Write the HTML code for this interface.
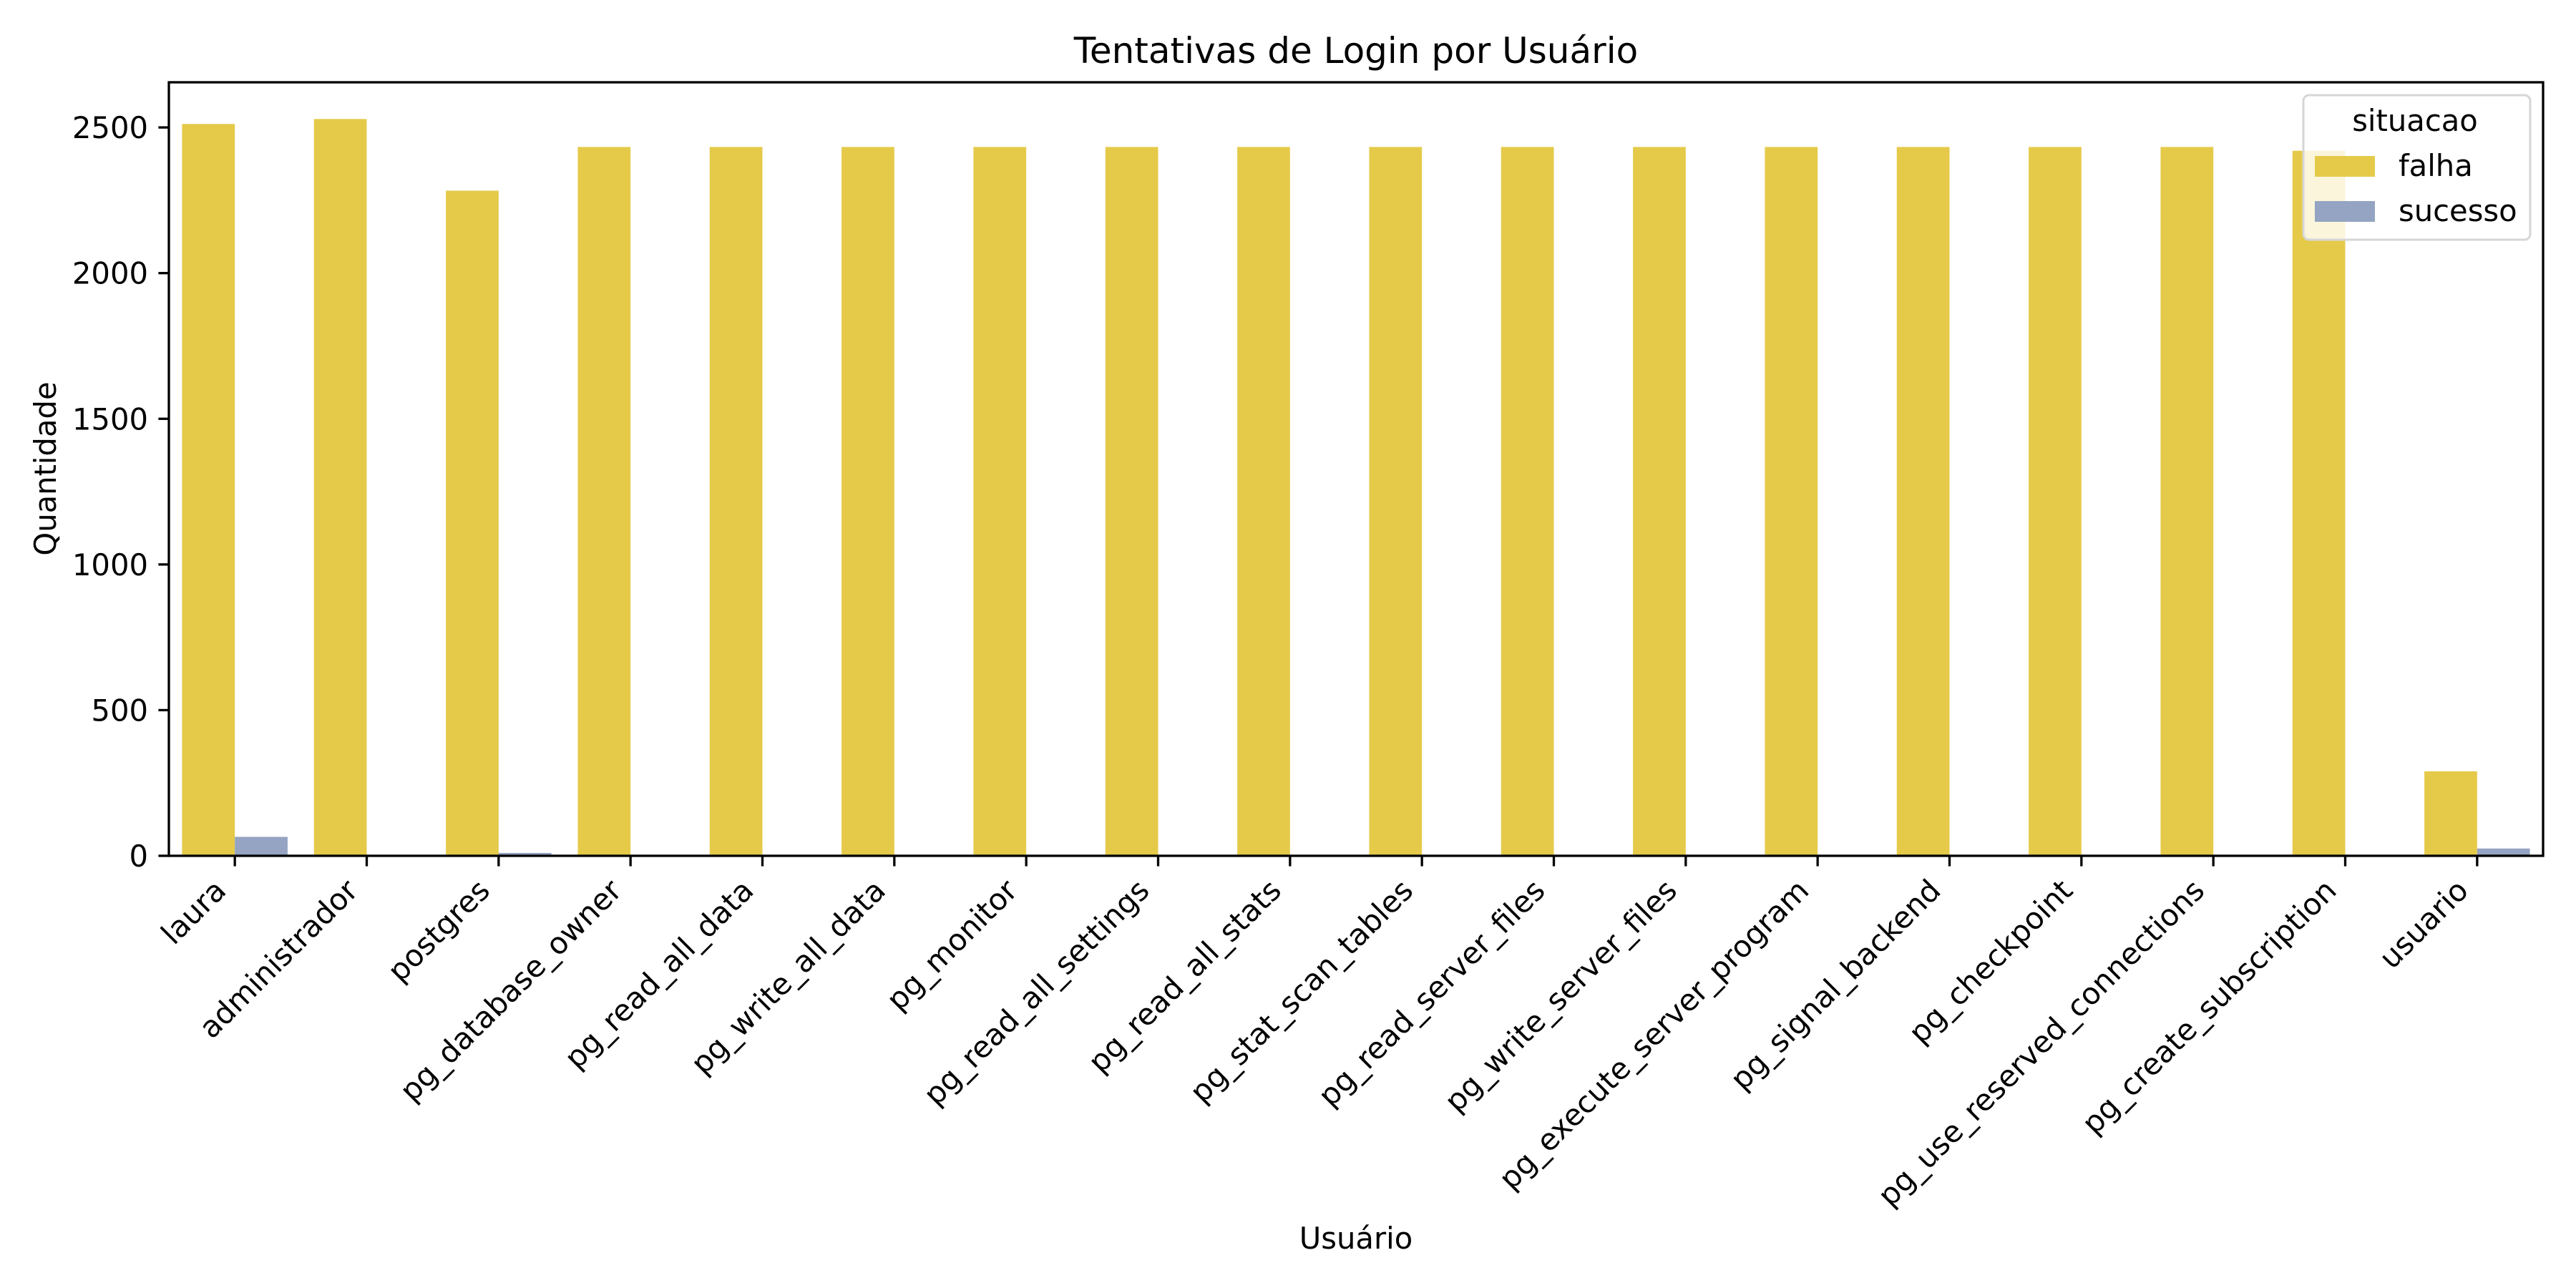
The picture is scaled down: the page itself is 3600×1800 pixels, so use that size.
<!DOCTYPE html>
<html><head><meta charset="utf-8"><style>
html,body{margin:0;padding:0;background:#fff;}
svg{display:block;font-family:"DejaVu Sans","Liberation Sans",sans-serif;}
</style></head><body>
<svg id="chart" width="3600" height="1800" viewBox="0 0 3600 1800" xmlns="http://www.w3.org/2000/svg">
<rect width="3600" height="1800" fill="#fff"/>
<text x="1895" y="88" font-size="50" text-anchor="middle">Tentativas de Login por Usuário</text>
<text x="1895" y="1745" font-size="41.7" text-anchor="middle">Usuário</text>
<text x="78" y="655" font-size="41.7" text-anchor="middle" transform="rotate(-90 78 655)">Quantidade</text>
<g id="bars"></g>
<g id="axes"></g>
<g id="legend">
  <rect x="3219" y="133" width="317" height="202" rx="8" fill="#fff" fill-opacity="0.8" stroke="#d6d6d6" stroke-width="3"/>
  <text x="3375" y="183" font-size="41.7" text-anchor="middle">situacao</text>
  <rect x="3235" y="218" width="84" height="29" fill="#e5ca4a"/>
  <text x="3352" y="246" font-size="41.7">falha</text>
  <rect x="3235" y="281" width="84" height="29" fill="#94a4c2"/>
  <text x="3352" y="309" font-size="41.7">sucesso</text>
</g>
</svg>
<script>
const categories = ["laura","administrador","postgres","pg_database_owner","pg_read_all_data","pg_write_all_data","pg_monitor","pg_read_all_settings","pg_read_all_stats","pg_stat_scan_tables","pg_read_server_files","pg_write_server_files","pg_execute_server_program","pg_signal_backend","pg_checkpoint","pg_use_reserved_connections","pg_create_subscription","usuario"];
const falha = [2512,2529,2283,2433,2433,2433,2433,2433,2433,2433,2433,2433,2433,2433,2433,2433,2420,290];
const sucesso = [65,2,10,2,2,2,2,2,2,2,2,2,2,2,2,2,2,25];
const yTicks = [0,500,1000,1500,2000,2500];
const yMax = 2655;

const NS = "http://www.w3.org/2000/svg";
const L = 236, R = 3554, T = 115, B = 1196;
const band = (R - L) / categories.length;
function xCenter(i){ return L + band * (i + 0.5); }
function yScale(v){ return B - v / yMax * (B - T); }
function mk(tag, attrs, parent){
  const e = document.createElementNS(NS, tag);
  for (const k in attrs) e.setAttribute(k, attrs[k]);
  parent.appendChild(e);
  return e;
}
const bars = document.getElementById('bars');
const axes = document.getElementById('axes');
const bw = band * 0.4;
categories.forEach((c, i) => {
  const cx = xCenter(i);
  const b1 = mk('rect', {x: cx - bw, y: yScale(falha[i]), width: bw, height: B - yScale(falha[i]), fill: '#e5ca4a'}, bars);
  
  
  const b2 = mk('rect', {x: cx, y: yScale(sucesso[i]), width: bw, height: B - yScale(sucesso[i]), fill: '#94a4c2'}, bars);
  
  
  const t = mk('line', {x1: cx, x2: cx, y1: B, y2: B + 14.6, stroke: '#000', 'stroke-width': 3.3}, axes);
  
  
  const ex = cx - 10, ey = B + 29 + 22;
  const lbl = mk('text', {x: ex, y: ey, 'font-size': 41.7, 'text-anchor': 'end', transform: 'rotate(-45 ' + ex + ' ' + ey + ')'}, axes);
  lbl.textContent = c;
  
  
});
yTicks.forEach(v => {
  const y = yScale(v);
  const t = mk('line', {x1: L - 14.6, x2: L, y1: y, y2: y, stroke: '#000', 'stroke-width': 3.3}, axes);
  
  
  const lbl = mk('text', {x: L - 29, y: y + 15, 'font-size': 41.7, 'text-anchor': 'end'}, axes);
  lbl.textContent = v;
  
  
});
const frame = mk('rect', {x: L, y: T, width: R - L, height: B - T, fill: 'none', stroke: '#000', 'stroke-width': 3.3}, axes);


</script>
</body></html>
